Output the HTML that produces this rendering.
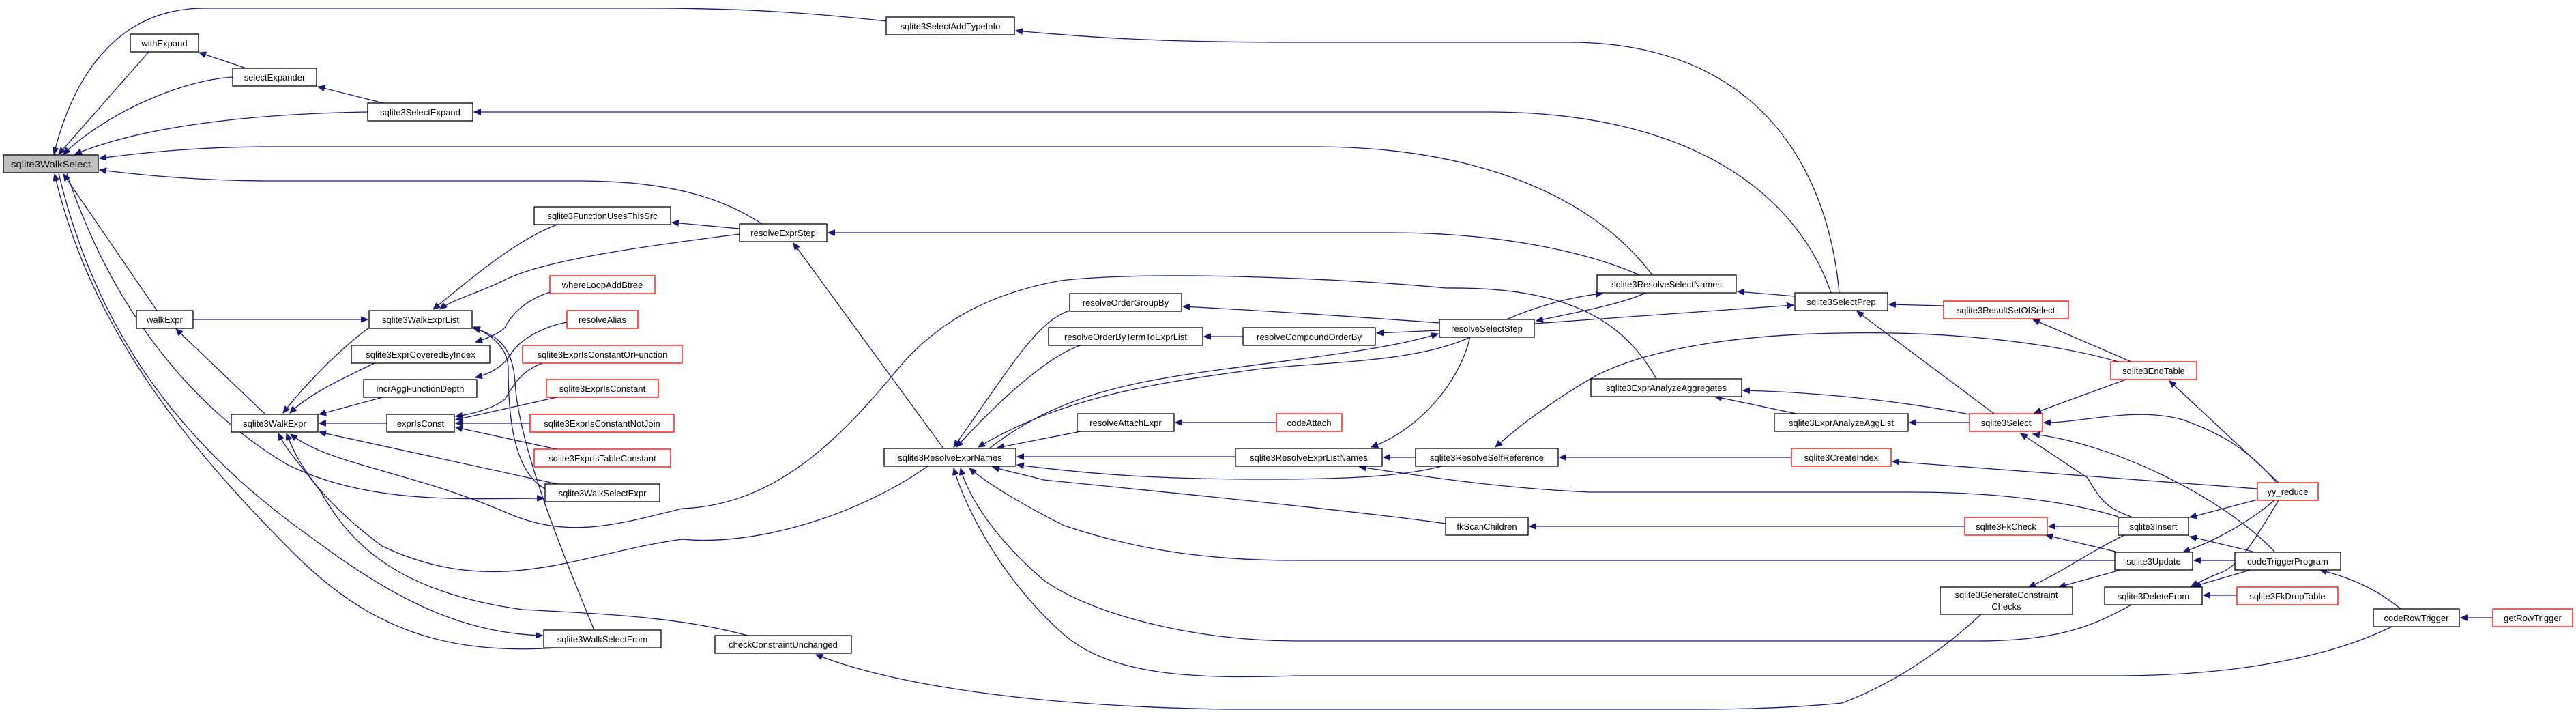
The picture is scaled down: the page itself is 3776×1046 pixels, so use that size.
<!DOCTYPE html>
<html><head><meta charset="utf-8"><style>
html,body{margin:0;padding:0;background:#fff;}
svg{display:block;}
text{font-family:"Liberation Sans",sans-serif;font-size:13px;fill:#000;}
.e{fill:none;stroke:#191970;stroke-width:1.3;marker-end:url(#a);}
.n{fill:#fff;stroke:#000;stroke-width:1.3;}
.r{fill:#fff;stroke:#ff0000;stroke-width:1.3;}
</style></head><body>
<svg width="3776" height="1046" viewBox="0 0 3776 1046" xmlns="http://www.w3.org/2000/svg">
<defs><marker id="a" markerUnits="userSpaceOnUse" markerWidth="11" markerHeight="9" refX="10" refY="4.5" orient="auto"><path d="M0,0 L10,4.5 L0,9 z" fill="#191970" stroke="#191970"/></marker></defs>
<g>
<path class="e" d="M1299,31 C1200,20 1100,12 950,12 L300,12 C180,12 110,100 79,226"/>
<path class="e" d="M218,76 L86,226"/>
<path class="e" d="M341,113 C260,118 150,170 93,226"/>
<path class="e" d="M539,164 C400,166 220,180 110,226"/>
<path class="e" d="M2422,403 C2330,280 2150,215 1930,215 L400,215 C300,215 220,222 146,232"/>
<path class="e" d="M1117,328 C1070,298 1000,265 850,265 L400,265 C300,265 220,258 146,249"/>
<path class="e" d="M230,455 L93,255"/>
<path class="e" d="M817,949 C650,960 540,920 430,810 C260,640 130,470 80,255"/>
<path class="e" d="M86,254 C140,480 260,650 460,790 C580,880 680,928 795,931"/>
<path class="e" d="M98,254 C160,440 270,590 420,680 C540,740 680,730 797,730"/>
<path class="e" d="M361,100 L292,77"/>
<path class="e" d="M562,151 L466,127"/>
<path class="e" d="M2684,429 C2640,300 2500,164 2180,164 L695,164"/>
<path class="e" d="M2696,429 C2680,250 2580,62 2300,62 L1900,62 C1700,62 1600,55 1489,45"/>
<path class="e" d="M2403,403 C2330,370 2200,341 2040,341 L1214,341"/>
<path class="e" d="M1084,335 L985,326"/>
<path class="e" d="M1084,343 C950,360 800,380 740,410 C700,430 660,440 645,453"/>
<path class="e" d="M817,329 C760,350 700,400 635,453"/>
<path class="e" d="M283,468 L539,468"/>
<path class="e" d="M541,480 C500,510 450,560 415,605"/>
<path class="e" d="M549,532 C490,560 450,580 425,605"/>
<path class="e" d="M561,582 L468,607"/>
<path class="e" d="M567,620 L468,620"/>
<path class="e" d="M389,607 L258,482"/>
<path class="e" d="M806,428 C770,440 750,460 740,480 C730,490 710,497 697,501"/>
<path class="e" d="M831,472 C790,480 760,500 748,520 C735,540 715,548 697,553"/>
<path class="e" d="M795,532 C760,545 750,570 740,585 C720,600 690,607 668,610"/>
<path class="e" d="M816,582 L668,615"/>
<path class="e" d="M777,620 L668,620"/>
<path class="e" d="M816,658 L668,626"/>
<path class="e" d="M817,709 L468,633"/>
<path class="e" d="M799,716 C750,690 745,600 745,540 C745,510 720,490 694,479"/>
<path class="e" d="M871,923 C820,800 760,650 755,560 C752,510 730,490 694,481"/>
<path class="e" d="M1096,931 C1000,905 900,900 766,893 C600,870 520,810 470,720 C440,680 420,660 408,635"/>
<path class="e" d="M1360,683 C1250,760 1100,800 1000,790 C850,810 730,880 560,800 C480,740 440,690 420,635"/>
<path class="e" d="M2428,555 C2380,470 2300,420 2119,422 C2000,410 1700,395 1555,411 C1450,430 1380,470 1325,530 C1250,620 1150,740 1000,745 C900,770 830,790 740,750 C600,690 480,680 426,636"/>
<path class="e" d="M1383,657 L1163,356"/>
<path class="e" d="M1568,455 C1520,470 1480,540 1398,655"/>
<path class="e" d="M1584,506 C1540,520 1470,580 1402,655"/>
<path class="e" d="M2157,493 C2080,530 1950,530 1850,540 C1700,560 1560,580 1434,655"/>
<path class="e" d="M1450,657 C1550,580 1650,560 1800,540 C1950,520 2040,510 2108,489"/>
<path class="e" d="M1584,632 L1462,656"/>
<path class="e" d="M1871,619 L1723,619"/>
<path class="e" d="M1811,669 L1491,669"/>
<path class="e" d="M2113,683 C2050,700 1950,702 1850,702 C1700,702 1600,695 1491,681"/>
<path class="e" d="M2119,767 C2000,750 1700,720 1530,703 C1500,695 1475,690 1455,684"/>
<path class="e" d="M3100,821 L1900,821 C1750,821 1650,800 1560,770 C1500,740 1450,710 1421,686"/>
<path class="e" d="M3126,885 C3080,910 3030,939 2900,939 L1900,939 C1750,939 1600,900 1530,850 C1460,790 1420,730 1408,686"/>
<path class="e" d="M3506,918 C3400,970 3250,990 3100,990 L1900,990 C1750,995 1630,990 1560,930 C1480,860 1420,760 1398,686"/>
<path class="e" d="M2904,900 C2850,950 2780,1000 2700,1030 C2600,1040 2500,1039 2438,1039 L1800,1039 C1500,1035 1300,1000 1196,959"/>
<path class="e" d="M2075,670 L2028,670"/>
<path class="e" d="M3105,757 C3050,740 2950,721 2800,721 L2330,721 C2200,715 2100,700 1993,684"/>
<path class="e" d="M2155,493 C2140,560 2080,630 2010,655"/>
<path class="e" d="M2626,670 L2286,670"/>
<path class="e" d="M3105,530 C3000,500 2850,485 2700,488 C2550,490 2420,510 2340,550 C2270,590 2220,630 2192,655"/>
<path class="e" d="M2880,771 L2242,771"/>
<path class="e" d="M2110,473 C2000,465 1850,455 1734,449"/>
<path class="e" d="M2110,484 L2018,488"/>
<path class="e" d="M1822,493 L1765,493"/>
<path class="e" d="M2208,468 C2250,450 2300,435 2349,430"/>
<path class="e" d="M2412,429 C2380,445 2300,460 2252,470"/>
<path class="e" d="M2631,434 L2547,427"/>
<path class="e" d="M2249,474 L2629,447"/>
<path class="e" d="M2849,448 L2769,446"/>
<path class="e" d="M2923,606 L2722,456"/>
<path class="e" d="M3124,530 L2980,468"/>
<path class="e" d="M2887,607 C2800,590 2680,575 2555,572"/>
<path class="e" d="M2633,606 L2514,581"/>
<path class="e" d="M2887,619 L2799,619"/>
<path class="e" d="M3119,555 L2982,605"/>
<path class="e" d="M3337,707 C3290,650 3240,630 3200,615 C3130,595 3050,620 2996,619"/>
<path class="e" d="M3340,707 L3180,558"/>
<path class="e" d="M3124,757 C3090,745 3080,735 3060,700 L2962,635"/>
<path class="e" d="M3334,808 C3260,730 3100,650 2980,636"/>
<path class="e" d="M3309,716 L2774,676"/>
<path class="e" d="M3309,732 L3210,758"/>
<path class="e" d="M3334,733 C3290,770 3240,795 3200,809"/>
<path class="e" d="M3340,733 C3300,800 3280,830 3255,839 C3240,845 3225,852 3212,859"/>
<path class="e" d="M3302,808 L3210,786"/>
<path class="e" d="M3276,821 L3216,821"/>
<path class="e" d="M3302,834 L3216,859"/>
<path class="e" d="M3519,892 C3480,860 3440,845 3401,835"/>
<path class="e" d="M3654,905 L3607,905"/>
<path class="e" d="M3279,872 L3230,872"/>
<path class="e" d="M3105,771 L3003,771"/>
<path class="e" d="M3101,808 L2999,784"/>
<path class="e" d="M3114,784 C3060,810 3020,840 2974,860"/>
<path class="e" d="M3108,835 L3018,860"/>
</g>
<g text-anchor="middle">
<rect x="5" y="227" width="139" height="26" fill="#bfbfbf" stroke="#000" stroke-width="1.3"/><text x="74.5" y="245" textLength="117" lengthAdjust="spacingAndGlyphs">sqlite3WalkSelect</text>
<rect class="n" x="191" y="50" width="100" height="26"/><text x="241" y="68">withExpand</text>
<rect class="n" x="341" y="100" width="123" height="26"/><text x="402.5" y="118">selectExpander</text>
<rect class="n" x="539" y="151" width="154" height="26"/><text x="616" y="169">sqlite3SelectExpand</text>
<rect class="n" x="1299" y="25" width="188" height="26"/><text x="1393" y="43">sqlite3SelectAddTypeInfo</text>
<rect class="n" x="783" y="303" width="200" height="26"/><text x="883" y="321">sqlite3FunctionUsesThisSrc</text>
<rect class="r" x="806" y="404" width="154" height="26"/><text x="883" y="422">whereLoopAddBtree</text>
<rect class="n" x="200" y="455" width="83" height="26"/><text x="241.5" y="473">walkExpr</text>
<rect class="n" x="541" y="455" width="151" height="26"/><text x="616.5" y="473">sqlite3WalkExprList</text>
<rect class="r" x="831" y="455" width="104" height="26"/><text x="883" y="473">resolveAlias</text>
<rect class="n" x="515" y="506" width="203" height="26"/><text x="616.5" y="524">sqlite3ExprCoveredByIndex</text>
<rect class="r" x="766" y="506" width="234" height="26"/><text x="883" y="524">sqlite3ExprIsConstantOrFunction</text>
<rect class="n" x="533" y="556" width="166" height="26"/><text x="616" y="574">incrAggFunctionDepth</text>
<rect class="r" x="801" y="556" width="164" height="26"/><text x="883" y="574">sqlite3ExprIsConstant</text>
<rect class="n" x="339" y="607" width="127" height="26"/><text x="402.5" y="625">sqlite3WalkExpr</text>
<rect class="n" x="567" y="607" width="99" height="26"/><text x="616.5" y="625">exprIsConst</text>
<rect class="r" x="777" y="607" width="211" height="26"/><text x="882.5" y="625">sqlite3ExprIsConstantNotJoin</text>
<rect class="r" x="783" y="658" width="200" height="26"/><text x="883" y="676">sqlite3ExprIsTableConstant</text>
<rect class="n" x="799" y="709" width="168" height="26"/><text x="883" y="727">sqlite3WalkSelectExpr</text>
<rect class="n" x="797" y="923" width="172" height="26"/><text x="883" y="941">sqlite3WalkSelectFrom</text>
<rect class="n" x="1084" y="328" width="128" height="26"/><text x="1148" y="346">resolveExprStep</text>
<rect class="n" x="1048" y="931" width="200" height="26"/><text x="1148" y="949">checkConstraintUnchanged</text>
<rect class="n" x="1296" y="657" width="193" height="26"/><text x="1392.5" y="675">sqlite3ResolveExprNames</text>
<rect class="n" x="1568" y="430" width="164" height="26"/><text x="1650" y="448">resolveOrderGroupBy</text>
<rect class="n" x="1537" y="480" width="226" height="26"/><text x="1650" y="498">resolveOrderByTermToExprList</text>
<rect class="n" x="1579" y="606" width="142" height="26"/><text x="1650" y="624">resolveAttachExpr</text>
<rect class="r" x="1871" y="606" width="96" height="26"/><text x="1919" y="624">codeAttach</text>
<rect class="n" x="1822" y="480" width="194" height="26"/><text x="1919" y="498">resolveCompoundOrderBy</text>
<rect class="n" x="2110" y="468" width="139" height="26"/><text x="2179.5" y="486">resolveSelectStep</text>
<rect class="n" x="2341" y="403" width="204" height="26"/><text x="2443" y="421">sqlite3ResolveSelectNames</text>
<rect class="n" x="2631" y="429" width="136" height="26"/><text x="2699" y="447">sqlite3SelectPrep</text>
<rect class="n" x="2332" y="555" width="221" height="26"/><text x="2442.5" y="573">sqlite3ExprAnalyzeAggregates</text>
<rect class="n" x="2601" y="606" width="196" height="26"/><text x="2699" y="624">sqlite3ExprAnalyzeAggList</text>
<rect class="n" x="1811" y="657" width="215" height="26"/><text x="1918.5" y="675">sqlite3ResolveExprListNames</text>
<rect class="n" x="2075" y="657" width="209" height="26"/><text x="2179.5" y="675">sqlite3ResolveSelfReference</text>
<rect class="r" x="2626" y="657" width="146" height="26"/><text x="2699" y="675">sqlite3CreateIndex</text>
<rect class="n" x="2119" y="758" width="121" height="26"/><text x="2179.5" y="776">fkScanChildren</text>
<rect class="r" x="2849" y="441" width="183" height="26"/><text x="2940.5" y="459">sqlite3ResultSetOfSelect</text>
<rect class="r" x="3094" y="530" width="126" height="26"/><text x="3157" y="548">sqlite3EndTable</text>
<rect class="r" x="2887" y="606" width="107" height="26"/><text x="2940.5" y="624">sqlite3Select</text>
<rect class="r" x="3309" y="707" width="89" height="26"/><text x="3353.5" y="725">yy_reduce</text>
<rect class="r" x="2880" y="758" width="121" height="26"/><text x="2940.5" y="776">sqlite3FkCheck</text>
<rect class="n" x="3105" y="758" width="103" height="26"/><text x="3156.5" y="776">sqlite3Insert</text>
<rect class="n" x="3100" y="809" width="114" height="26"/><text x="3157" y="827">sqlite3Update</text>
<rect class="n" x="3276" y="809" width="155" height="26"/><text x="3353.5" y="827">codeTriggerProgram</text>
<rect class="n" x="2844" y="860" width="194" height="40"/><text x="2941" y="876">sqlite3GenerateConstraint</text><text x="2941" y="893">Checks</text>
<rect class="n" x="3085" y="860" width="143" height="26"/><text x="3156.5" y="878">sqlite3DeleteFrom</text>
<rect class="r" x="3279" y="860" width="148" height="26"/><text x="3353" y="878">sqlite3FkDropTable</text>
<rect class="n" x="3479" y="892" width="126" height="26"/><text x="3542" y="910">codeRowTrigger</text>
<rect class="r" x="3654" y="892" width="117" height="26"/><text x="3712.5" y="910">getRowTrigger</text>
</g>
</svg>
</body></html>
